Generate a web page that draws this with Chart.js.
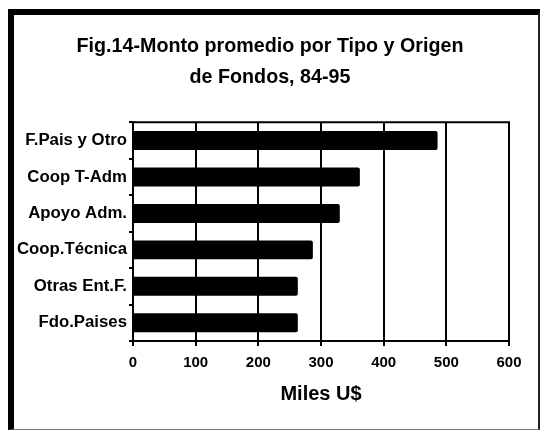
<!DOCTYPE html>
<html>
<head>
<meta charset="utf-8">
<script src="https://cdn.jsdelivr.net/npm/chart.js@4/dist/chart.umd.min.js"></script>
<style>
  html, body { margin: 0; padding: 0; background: #fff; }
  #wrap { position: relative; width: 541px; height: 430px; overflow: hidden; }
  #frame {
    position: absolute; left: 8px; top: 9px; width: 524px; height: 414px;
    border-top: 6px solid #000; border-left: 6px solid #000;
    border-right: 2px solid #222; border-bottom: 1px solid #777;
  }
  #chart { position: absolute; left: 0; top: 0; }
</style>
</head>
<body>
<div id="wrap">
  <div id="frame"></div>
  <canvas id="chart" width="541" height="430"></canvas>
</div>
<script>
const categories = ['F.Pais y Otro', 'Coop T-Adm', 'Apoyo Adm.', 'Coop.Técnica', 'Otras Ent.F.', 'Fdo.Paises'];
const montos = [486, 362, 330, 287, 263, 263];
const titleLines = ['Fig.14-Monto promedio por Tipo y Origen', 'de Fondos, 84-95'];
const xTitle = 'Miles U$';

const FONT = '"Liberation Sans", Arial, sans-serif';

// outline around the plot area
const plotFrame = {
  id: 'plotFrame',
  afterDraw(chart) {
    const { ctx, chartArea: a } = chart;
    ctx.save();
    ctx.strokeStyle = '#000';
    ctx.lineWidth = 2;
    ctx.strokeRect(a.left, a.top, a.right - a.left, a.bottom - a.top);
    ctx.restore();
  },
};

// category labels are wider than the y scale box, so don't clip them
const noLabelClip = {
  id: 'noLabelClip',
  afterLayout(chart) {
    chart.scales.y._computeLabelArea = () => undefined;
  },
};

const ctx = document.getElementById('chart').getContext('2d');
new Chart(ctx, {
  type: 'bar',
  data: {
    labels: categories,
    datasets: [
      {
        data: montos,
        backgroundColor: '#000',
        borderRadius: 2,
        barPercentage: 0.52,
        categoryPercentage: 1,
      },
    ],
  },
  options: {
    indexAxis: 'y',
    responsive: false,
    animation: false,
    layout: { padding: { left: 31, right: 32, top: 0, bottom: 0 } },
    plugins: {
      legend: { display: false },
      tooltip: { enabled: false },
      title: {
        display: true,
        text: titleLines,
        color: '#000',
        font: { family: FONT, size: 19.7, weight: 'bold', lineHeight: 1.58 },
        padding: { top: 31, bottom: 29 },
      },
    },
    scales: {
      x: {
        min: 0,
        max: 600,
        ticks: {
          stepSize: 100,
          color: '#000',
          font: { family: FONT, size: 15, weight: 'bold' },
          padding: 8,
        },
        grid: { color: '#000', lineWidth: 2, tickLength: 5 },
        border: { color: '#000', width: 2 },
        title: {
          display: true,
          text: xTitle,
          color: '#000',
          font: { family: FONT, size: 20, weight: 'bold' },
          padding: { top: 0, bottom: 24 },
        },
        afterFit(scale) {
          scale.height = 89;
        },
      },
      y: {
        ticks: {
          color: '#000',
          font: { family: FONT, size: 16.8, weight: 'bold' },
          padding: 2,
        },
        grid: {
          offset: true,
          drawOnChartArea: false,
          color: '#000',
          lineWidth: 2,
          tickLength: 4,
        },
        border: { color: '#000', width: 2 },
        afterFit(scale) {
          scale.width = 102;
        },
      },
    },
  },
  plugins: [plotFrame, noLabelClip],
});
</script>
</body>
</html>
